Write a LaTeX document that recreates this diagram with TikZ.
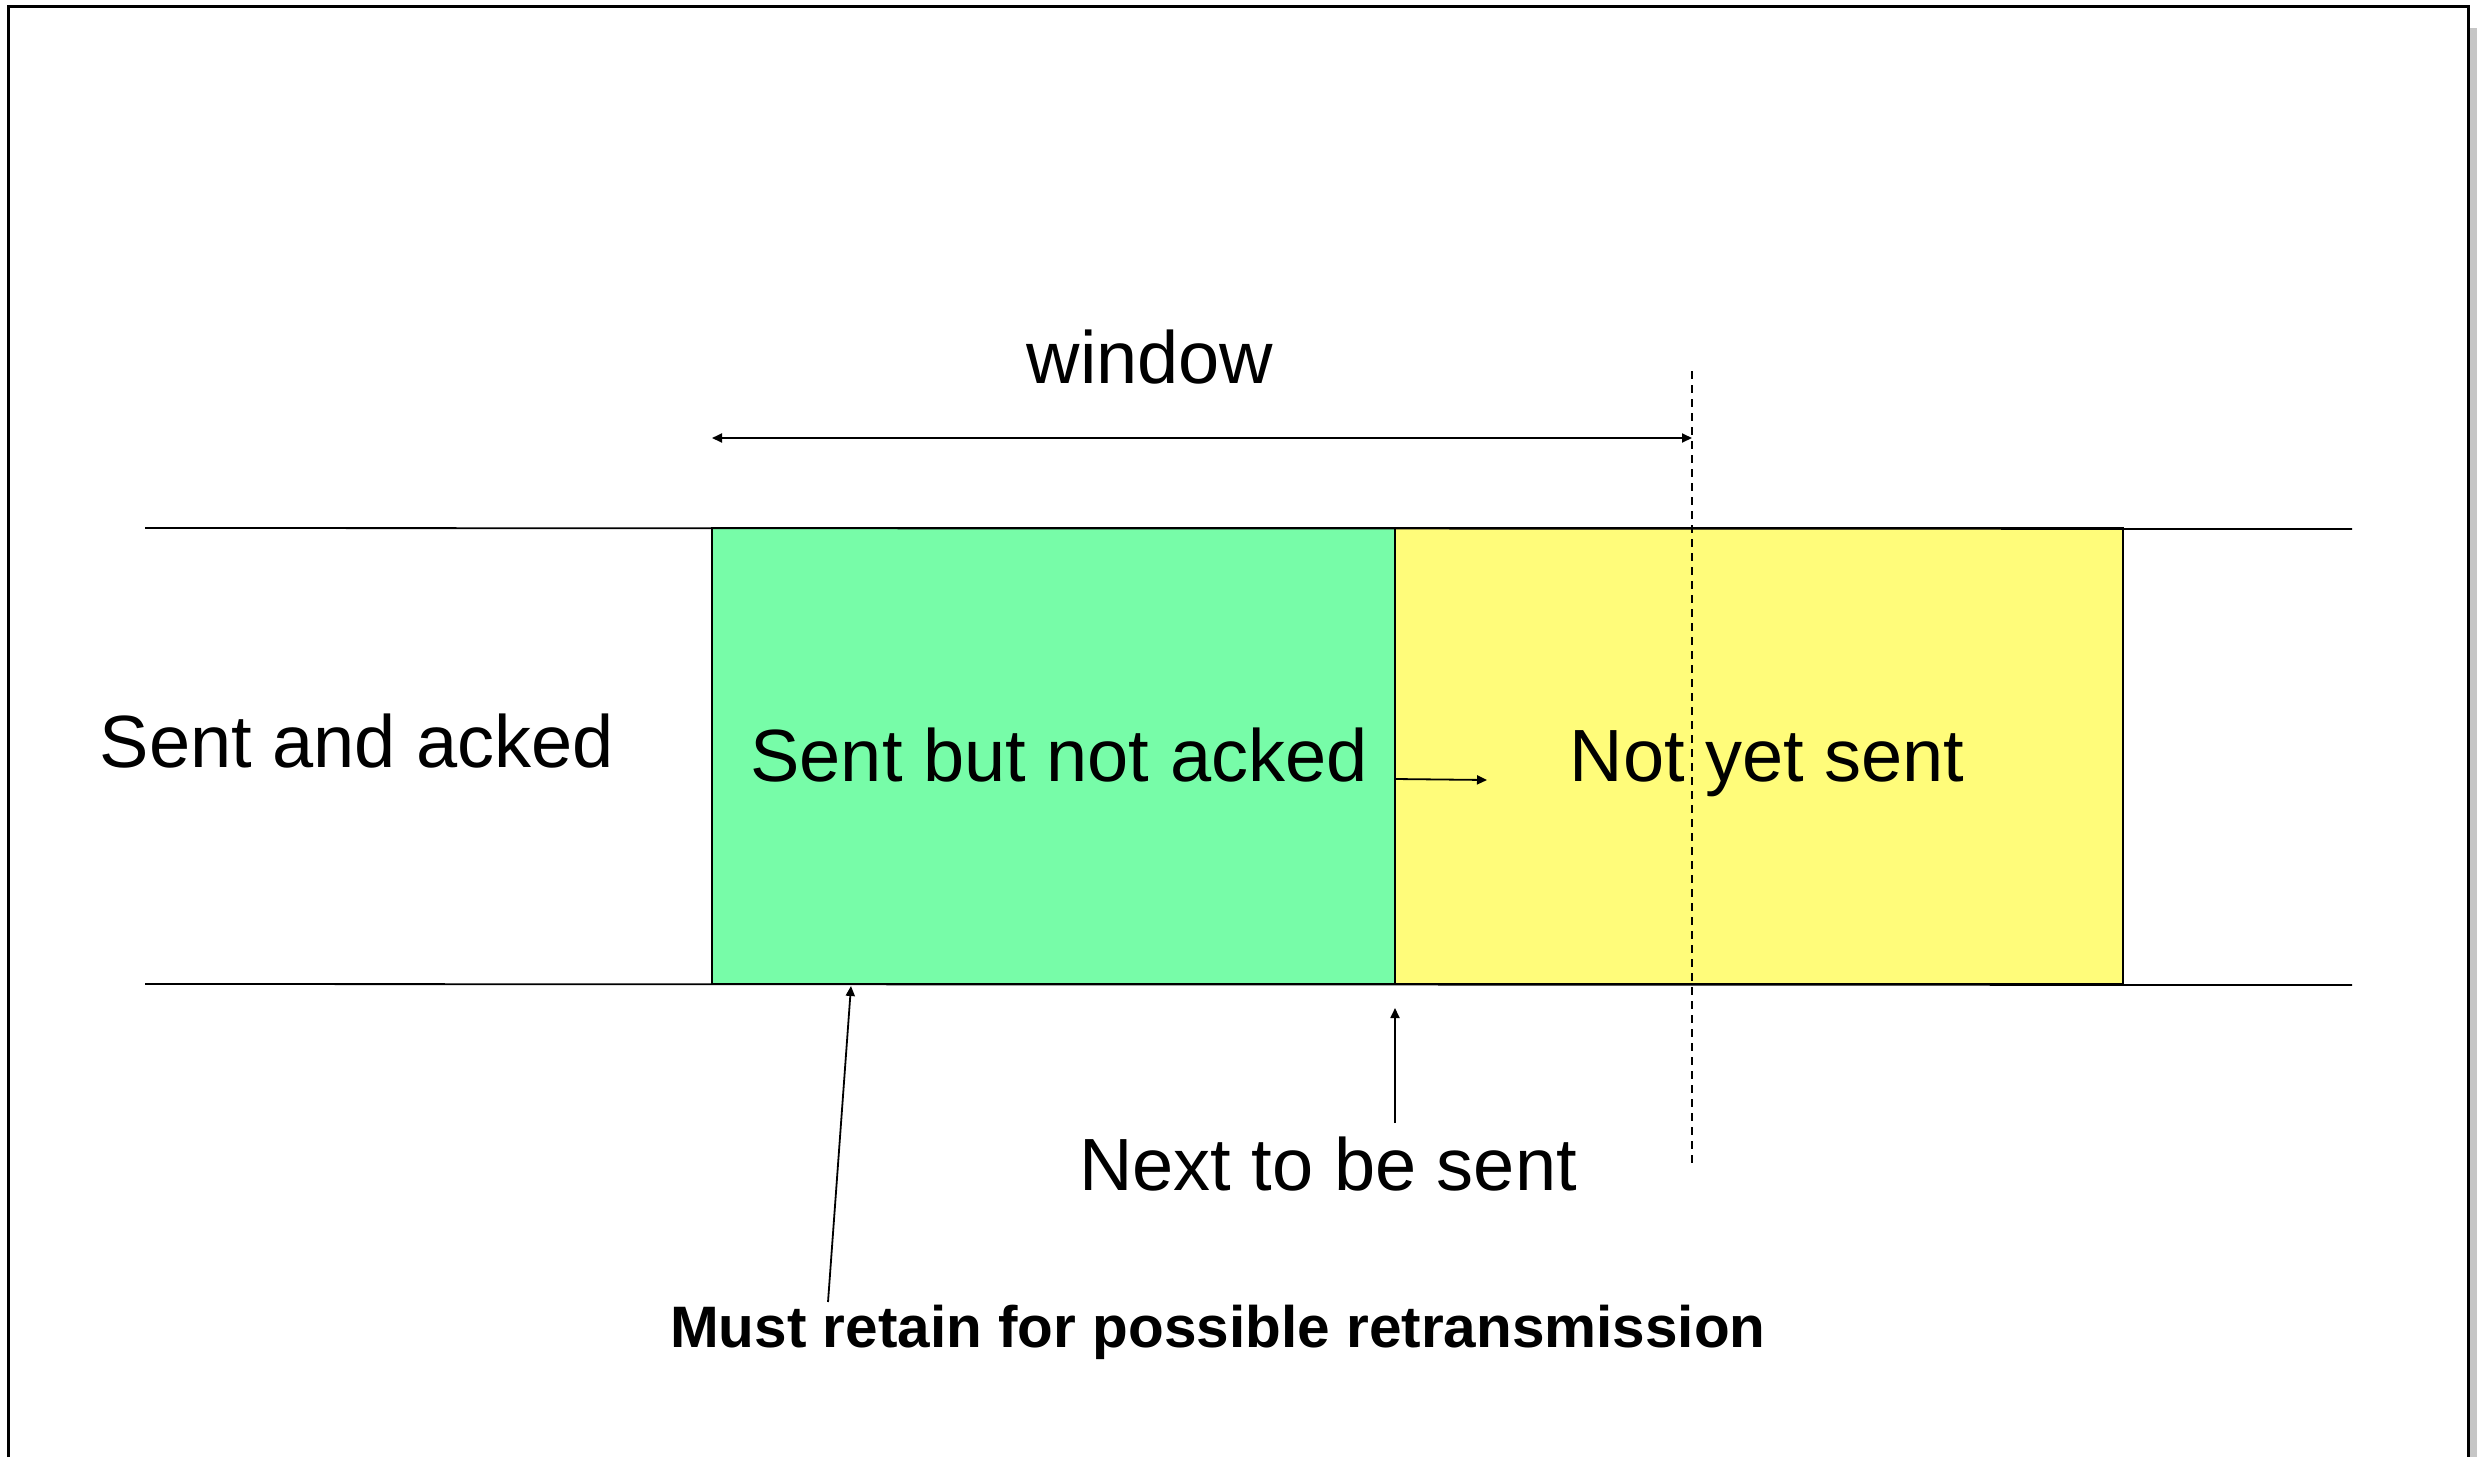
\documentclass[tikz,border=0pt]{standalone}
\usepackage{fontspec}
\setmainfont{Liberation Sans}
\usetikzlibrary{arrows.meta}
\definecolor{sentgreen}{RGB}{119,252,168}
\definecolor{notyellow}{RGB}{255,252,122}
\tikzset{
  thin line/.style={line width=1.8pt},
  tip/.style={-{Triangle[length=10pt,width=9pt]}},
  big label/.style={font=\fontsize{74}{88}\selectfont, inner sep=0pt},
  bold label/.style={font=\fontsize{58.5}{70}\selectfont\bfseries, inner sep=0pt},
}
\begin{document}
\begin{tikzpicture}[x=1pt,y=-1pt]
\path[use as bounding box] (0,0) rectangle (2477,1457);
% shadow and frame
\fill[gray!45] (2469,28) rectangle (2477,1457);
\draw[line width=3pt] (8,1457) -- (8,6) -- (2468,6) -- (2468,1457);
% coloured blocks
\fill[sentgreen] (712,528) rectangle (1395,984);
\fill[notyellow] (1395,528) rectangle (2123,984);
\draw[thin line] (712,528) rectangle (1395,984);
\draw[thin line] (1395,528) rectangle (2123,984);
% long horizontal lines
\coordinate (tl) at (145,528); \coordinate (tr) at (2352,529);
\coordinate (bl) at (145,984); \coordinate (br) at (2352,985);
\draw[thin line] (tl) -- (tr);
\draw[thin line] (bl) -- (br);
% dashed window edge
\coordinate (dtop) at (1692,371); \coordinate (dbot) at (1692,1164);
\draw[thin line, dash pattern=on 8pt off 6pt] (dtop) -- (dbot);
% window arrow
\coordinate (wl) at (712,438); \coordinate (wr) at (1692,438);
\draw[thin line, {Triangle[length=10pt,width=9pt]}-{Triangle[length=10pt,width=9pt]}] (wl) -- (wr);
\node[big label] (window) at (1150,357) {window};
% labels
\node[big label] (acked) at (357,741) {Sent and acked};
\node[big label, anchor=base] (unacked) at (1059,781) {Sent but not acked};
\node[big label, anchor=base] (notsent) at (1767,781) {Not yet sent};
\node[big label] (next) at (1328,1164) {Next to be sent};
\node[bold label] (retain) at (1218,1332) {Must retain for possible retransmission};
% small arrow in block
\coordinate (ms) at (1395,779); \coordinate (me) at (1487,780);
\draw[thin line, tip] (ms) -- (me);
% next to be sent pointer
\coordinate (ns) at (1395,1123); \coordinate (ne) at (1395,1008);
\draw[thin line, tip] (ns) -- (ne);
% retain pointer
\coordinate (rs) at (828,1302); \coordinate (re) at (851,986);
\draw[thin line, tip] (rs) -- (re);
\end{tikzpicture}
\end{document}
